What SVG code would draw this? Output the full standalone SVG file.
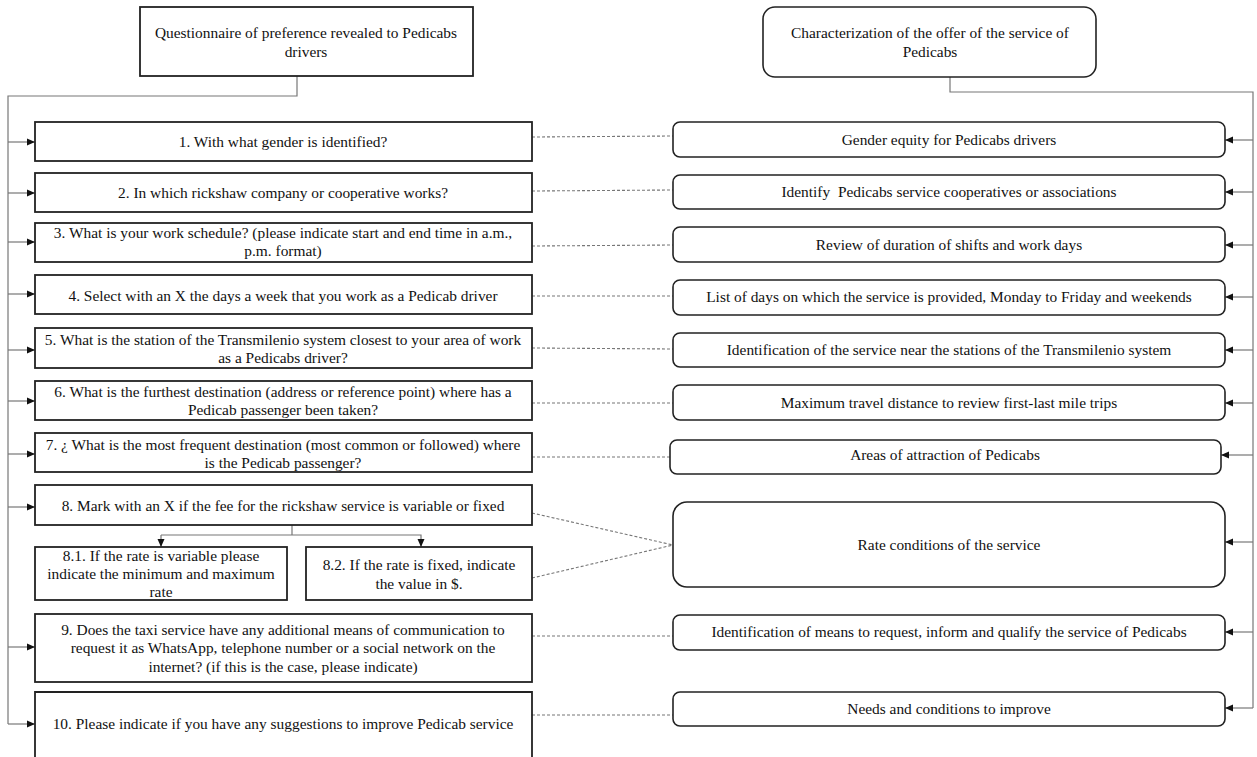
<svg xmlns="http://www.w3.org/2000/svg" width="1257" height="757" viewBox="0 0 1257 757">
<style>
text{font-family:"Liberation Serif","Times New Roman",serif;font-size:15.4px;fill:#111;text-anchor:middle}
.box{fill:#fff;stroke:#222;stroke-width:1.8}
.rbox{fill:#fff;stroke:#222;stroke-width:1.6}
.conn{fill:none;stroke:#777;stroke-width:1.2}
.dot{fill:none;stroke:#777;stroke-width:1.1;stroke-dasharray:3 2}
</style>
<defs>
<marker id="ah" markerWidth="8" markerHeight="8" refX="8" refY="4" orient="auto" markerUnits="userSpaceOnUse">
<path d="M0,0.5 L8,4 L0,7.5 Z" fill="#111"/>
</marker>
</defs>
<g id="connectors">
<path class="conn" d="M297,76 V96 H8 V724"/>
<path class="conn" marker-end="url(#ah)" d="M8,142 H35"/>
<path class="conn" marker-end="url(#ah)" d="M8,193 H35"/>
<path class="conn" marker-end="url(#ah)" d="M8,242 H35"/>
<path class="conn" marker-end="url(#ah)" d="M8,294 H35"/>
<path class="conn" marker-end="url(#ah)" d="M8,350 H35"/>
<path class="conn" marker-end="url(#ah)" d="M8,401 H35"/>
<path class="conn" marker-end="url(#ah)" d="M8,454 H35"/>
<path class="conn" marker-end="url(#ah)" d="M8,507 H35"/>
<path class="conn" marker-end="url(#ah)" d="M8,647 H35"/>
<path class="conn" marker-end="url(#ah)" d="M8,724 H35"/>
<path class="conn" d="M950,77 V92 H1253 V708"/>
<path class="conn" marker-end="url(#ah)" d="M1253,140 H1225"/>
<path class="conn" marker-end="url(#ah)" d="M1253,192 H1225"/>
<path class="conn" marker-end="url(#ah)" d="M1253,245 H1225"/>
<path class="conn" marker-end="url(#ah)" d="M1253,297 H1225"/>
<path class="conn" marker-end="url(#ah)" d="M1253,350 H1225"/>
<path class="conn" marker-end="url(#ah)" d="M1253,403 H1225"/>
<path class="conn" marker-end="url(#ah)" d="M1253,455 H1221"/>
<path class="conn" marker-end="url(#ah)" d="M1253,542 H1225"/>
<path class="conn" marker-end="url(#ah)" d="M1253,632 H1225"/>
<path class="conn" marker-end="url(#ah)" d="M1253,708 H1225"/>
<path class="conn" d="M292,525 V535"/>
<path class="conn" marker-end="url(#ah)" d="M161,535 V547"/>
<path class="conn" marker-end="url(#ah)" d="M161,535 H421 V547"/>
<path class="dot" d="M532,137 L673,136"/>
<path class="dot" d="M532,191 L673,190"/>
<path class="dot" d="M532,246 L673,245"/>
<path class="dot" d="M532,296 L673,296"/>
<path class="dot" d="M532,348 L673,349"/>
<path class="dot" d="M532,403 L673,403"/>
<path class="dot" d="M532,457 L670,457"/>
<path class="dot" d="M532,513 L673,545"/>
<path class="dot" d="M532,578 L673,545"/>
<path class="dot" d="M532,636 L673,636"/>
<path class="dot" d="M532,715 L673,715"/>
</g>
<g id="q-header"><rect class="box" x="140" y="7" width="333" height="69"/><text x="306" y="38">Questionnaire of preference revealed to Pedicabs</text><text x="306" y="57">drivers</text></g>
<g id="c-header"><rect class="rbox" x="763" y="7" width="333" height="70" rx="12"/><text x="930" y="38">Characterization of the offer of the service of</text><text x="930" y="57">Pedicabs</text></g>
<g id="q1"><rect class="box" x="35" y="122" width="497" height="39"/><text x="283" y="147">1. With what gender is identified?</text></g>
<g id="q2"><rect class="box" x="35" y="173" width="497" height="39"/><text x="283" y="198">2. In which rickshaw company or cooperative works?</text></g>
<g id="q3"><rect class="box" x="35" y="223" width="497" height="39"/><text x="283" y="238">3. What is your work schedule? (please indicate start and end time in a.m.,</text><text x="283" y="256">p.m. format)</text></g>
<g id="q4"><rect class="box" x="35" y="275" width="497" height="39"/><text x="283" y="301">4. Select with an X the days a week that you work as a Pedicab driver</text></g>
<g id="q5"><rect class="box" x="35" y="328" width="497" height="40"/><text x="283" y="345">5. What is the station of the Transmilenio system closest to your area of work</text><text x="283" y="363">as a Pedicabs driver?</text></g>
<g id="q6"><rect class="box" x="35" y="381" width="497" height="39"/><text x="283" y="397">6. What is the furthest destination (address or reference point) where has a</text><text x="283" y="415">Pedicab passenger been taken?</text></g>
<g id="q7"><rect class="box" x="35" y="433" width="497" height="39"/><text x="283" y="450">7. ¿ What is the most frequent destination (most common or followed) where</text><text x="283" y="468">is the Pedicab passenger?</text></g>
<g id="q8"><rect class="box" x="35" y="485" width="497" height="40"/><text x="283" y="511">8. Mark with an X if the fee for the rickshaw service is variable or fixed</text></g>
<g id="q8-1"><rect class="box" x="35" y="547" width="252" height="53"/><text x="161" y="561">8.1. If the rate is variable please</text><text x="161" y="579">indicate the minimum and maximum</text><text x="161" y="597">rate</text></g>
<g id="q8-2"><rect class="box" x="306" y="547" width="226" height="53"/><text x="419" y="570">8.2. If the rate is fixed, indicate</text><text x="419" y="589">the value in $.</text></g>
<g id="q9"><rect class="box" x="35" y="614" width="497" height="68"/><text x="283" y="635">9. Does the taxi service have any additional means of communication to</text><text x="283" y="653">request it as WhatsApp,  telephone number or a social network on the</text><text x="283" y="672">internet? (if this is the case, please indicate)</text></g>
<g id="q10"><path class="box" d="M35,760 V692 H532 V760"/><text x="283" y="729">10. Please indicate if you have any suggestions to improve Pedicab service</text></g>
<g id="r1"><rect class="rbox" x="673" y="122" width="552" height="35" rx="7"/><text x="949" y="145">Gender equity for Pedicabs drivers</text></g>
<g id="r2"><rect class="rbox" x="673" y="175" width="552" height="34" rx="7"/><text x="949" y="197" xml:space="preserve">Identify  Pedicabs service cooperatives or associations</text></g>
<g id="r3"><rect class="rbox" x="673" y="227" width="552" height="35" rx="7"/><text x="949" y="250">Review of duration of shifts and work days</text></g>
<g id="r4"><rect class="rbox" x="673" y="280" width="552" height="35" rx="7"/><text x="949" y="302">List of days on which the service is provided, Monday to Friday and weekends</text></g>
<g id="r5"><rect class="rbox" x="673" y="333" width="552" height="34" rx="7"/><text x="949" y="355">Identification of the service near the stations of the Transmilenio system</text></g>
<g id="r6"><rect class="rbox" x="673" y="385" width="552" height="35" rx="7"/><text x="949" y="408">Maximum travel distance to review first-last mile trips</text></g>
<g id="r7"><rect class="rbox" x="670" y="440" width="551" height="34" rx="7"/><text x="945" y="460">Areas of attraction of Pedicabs</text></g>
<g id="r8"><rect class="rbox" x="673" y="502" width="552" height="85" rx="14"/><text x="949" y="550">Rate conditions of the service</text></g>
<g id="r9"><rect class="rbox" x="673" y="615" width="552" height="35" rx="7"/><text x="949" y="637">Identification of means to request, inform and qualify the service of Pedicabs</text></g>
<g id="r10"><rect class="rbox" x="673" y="692" width="552" height="34" rx="7"/><text x="949" y="714">Needs and conditions to improve</text></g>
</svg>
